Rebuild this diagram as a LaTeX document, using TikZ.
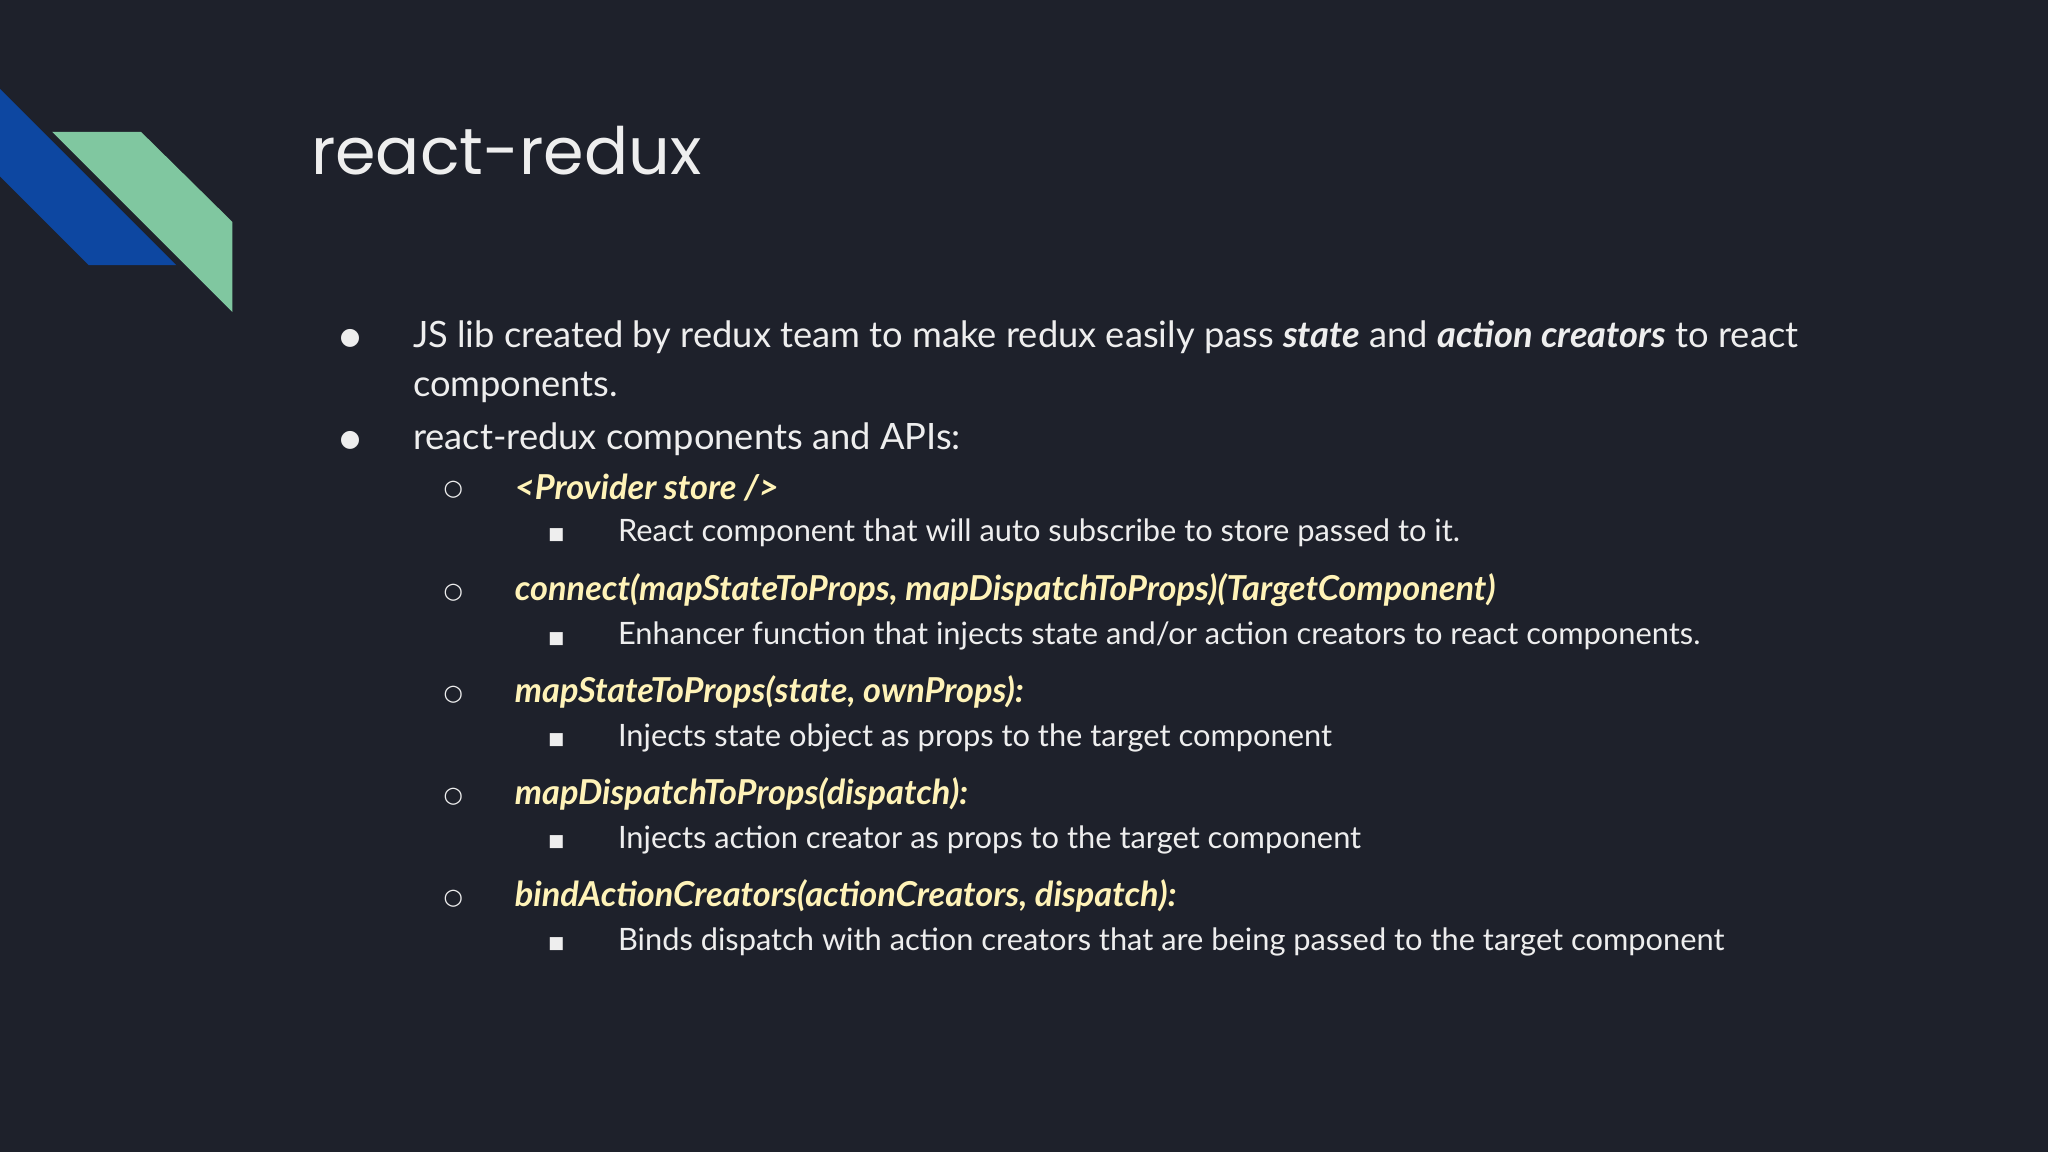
\documentclass[tikz,border=0pt]{standalone}
\usepackage{fontspec}
\setmainfont{Lato}
\newfontfamily\titlefont{Poppins}
\newfontfamily\symfont{DejaVu Sans}
\definecolor{bg}{HTML}{1E212B}
\definecolor{bluec}{HTML}{0D47A1}
\definecolor{greenc}{HTML}{80C7A0}
\definecolor{txt}{HTML}{EEEEEE}
\definecolor{yel}{HTML}{FFF3B8}
\begin{document}
\begin{tikzpicture}[x=1pt,y=-1pt,
  lone/.style={anchor=west,inner sep=0,text=txt,font=\fontsize{27.8}{34}\selectfont},
  ltwo/.style={anchor=west,inner sep=0,text=yel,font=\fontsize{26.3}{30}\selectfont\bfseries\itshape},
  lthree/.style={anchor=west,inner sep=0,text=txt,font=\fontsize{23.6}{27}\selectfont},
  bul/.style={anchor=center,inner sep=0,text=txt}]
\fill[bg] (0,0) rectangle (1568,882);
\useasboundingbox (0,0) rectangle (1568,882);
\fill[bluec] (0,68) -- (135,203) -- (68,203) -- (0,135) -- cycle;
\fill[greenc] (40,101) -- (108,101) -- (178,170) -- (178,239) -- cycle;
\node[anchor=west,inner sep=0,text=txt,font=\fontsize{50}{60}\selectfont\titlefont] (title) at (238,115) {react-redux};
\node[bul,font=\fontsize{18}{22}\selectfont\symfont] (b1) at (268,259) {●};
\node[lone] (t1) at (316,258) {JS lib created by redux team to make redux easily pass \textbf{\textit{state}} and \textbf{\textit{action creators}} to react};
\node[lone] (t1b) at (316,297) {components.};
\node[bul,font=\fontsize{18}{22}\selectfont\symfont] (b2) at (268,337) {●};
\node[lone] (t2) at (316,336) {react-redux components and APIs:};
\foreach \y/\a/\b [count=\i] in {
 373/{<Provider store />}/{React component that will auto subscribe to store passed to it.},
 452/{connect(mapStateToProps, mapDispatchToProps)(TargetComponent)}/{Enhancer function that injects state and/or action creators to react components.},
 530/{mapStateToProps(state, ownProps):}/{Injects state object as props to the target component},
 608/{mapDispatchToProps(dispatch):}/{Injects action creator as props to the target component},
 686/{bindActionCreators(actionCreators, dispatch):}/{Binds dispatch with action creators that are being passed to the target component}}{
  \node[bul,font=\fontsize{17}{22}\selectfont\symfont] (c\i) at (347,\y+2) {○};
  \node[ltwo] (s\i) at (394,\y) {\a};
  \node[bul,font=\fontsize{13}{18}\selectfont\symfont] (q\i) at (426,\y+37) {■};
  \node[lthree] (d\i) at (473,\y+35) {\b};
}
\end{tikzpicture}
\end{document}
